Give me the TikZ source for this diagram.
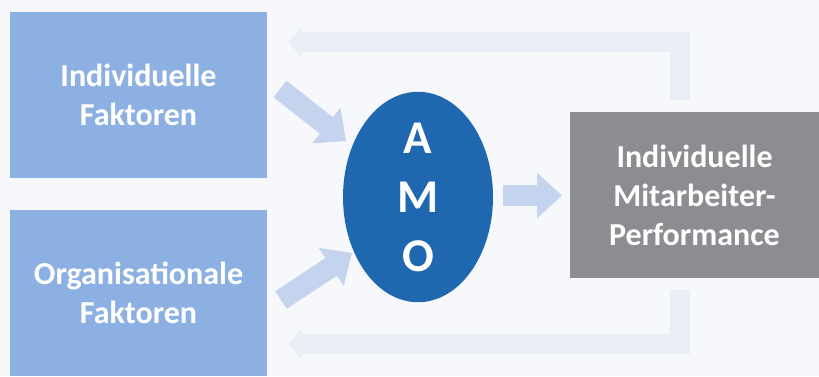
\documentclass[tikz,border=0pt]{standalone}
\usepackage{fontspec}
\setmainfont{Carlito}
\usetikzlibrary{arrows.meta,shapes.geometric}

\definecolor{pagebg}{HTML}{F6F8FC}
\definecolor{factorblue}{HTML}{8DB0E2}
\definecolor{amoblue}{HTML}{1F67AF}
\definecolor{perfgray}{HTML}{8C8D91}
\definecolor{flowblue}{HTML}{C4D4EF}
\definecolor{feedblue}{HTML}{E9EEF7}

\tikzset{
  factorbox/.style={fill=factorblue, draw=none, minimum width=257pt, minimum height=166pt,
    text=white, font=\bfseries\fontsize{32}{39}\selectfont, align=center, inner sep=0pt},
  perfbox/.style={fill=perfgray, draw=none, minimum width=249pt, minimum height=166pt,
    text=white, font=\bfseries\fontsize{32}{39}\selectfont, align=center, inner sep=0pt},
  amonode/.style={ellipse, fill=amoblue, draw=none, minimum width=150pt, minimum height=205pt,
    text=white, font=\bfseries\fontsize{47}{59}\selectfont, align=center, inner sep=0pt},
  flowarrow/.style={draw=flowblue, line width=21pt,
    -{Triangle[width=44pt,length=25pt]}},
  feedarrow/.style={draw=feedblue, line width=20pt, line join=miter,
    -{Triangle[width=30pt,length=14pt]}},
}

\begin{document}
\begin{tikzpicture}[x=1pt,y=-1pt]
  % page
  \fill[pagebg] (0,0) rectangle (819,376);
  \useasboundingbox (0,0) rectangle (819,376);

  % feedback loops from performance back to the factors
  \coordinate (fbTopStart) at (680,100);
  \coordinate (fbTopCorner) at (680,42);
  \coordinate (fbTopEnd) at (288,42);
  \coordinate (fbBotStart) at (680,290);
  \coordinate (fbBotCorner) at (680,344);
  \coordinate (fbBotEnd) at (288,344);
  \draw[feedarrow] (fbTopStart) -- (fbTopCorner) -- (fbTopEnd);
  \draw[feedarrow] (fbBotStart) -- (fbBotCorner) -- (fbBotEnd);

  % boxes
  \node[factorbox] (indiv) at (138.5,95) {Individuelle\\Faktoren};
  \node[factorbox] (orga) at (138.5,293) {Organisationale\\Faktoren};
  \node[perfbox] (perf) at (694.5,195) {Individuelle\\Mitarbeiter-\\Performance};
  \node[amonode] (amo) at (418,197) {A\\M\\O};

  % flow arrows
  \coordinate (inA) at (280,89);
  \coordinate (inAtip) at (346,141);
  \coordinate (inB) at (281,300);
  \coordinate (inBtip) at (352,253);
  \coordinate (outA) at (503,195.5);
  \coordinate (outAtip) at (562,195.5);
  \draw[flowarrow] (inA) -- (inAtip);
  \draw[flowarrow] (inB) -- (inBtip);
  \draw[flowarrow] (outA) -- (outAtip);
\end{tikzpicture}
\end{document}
